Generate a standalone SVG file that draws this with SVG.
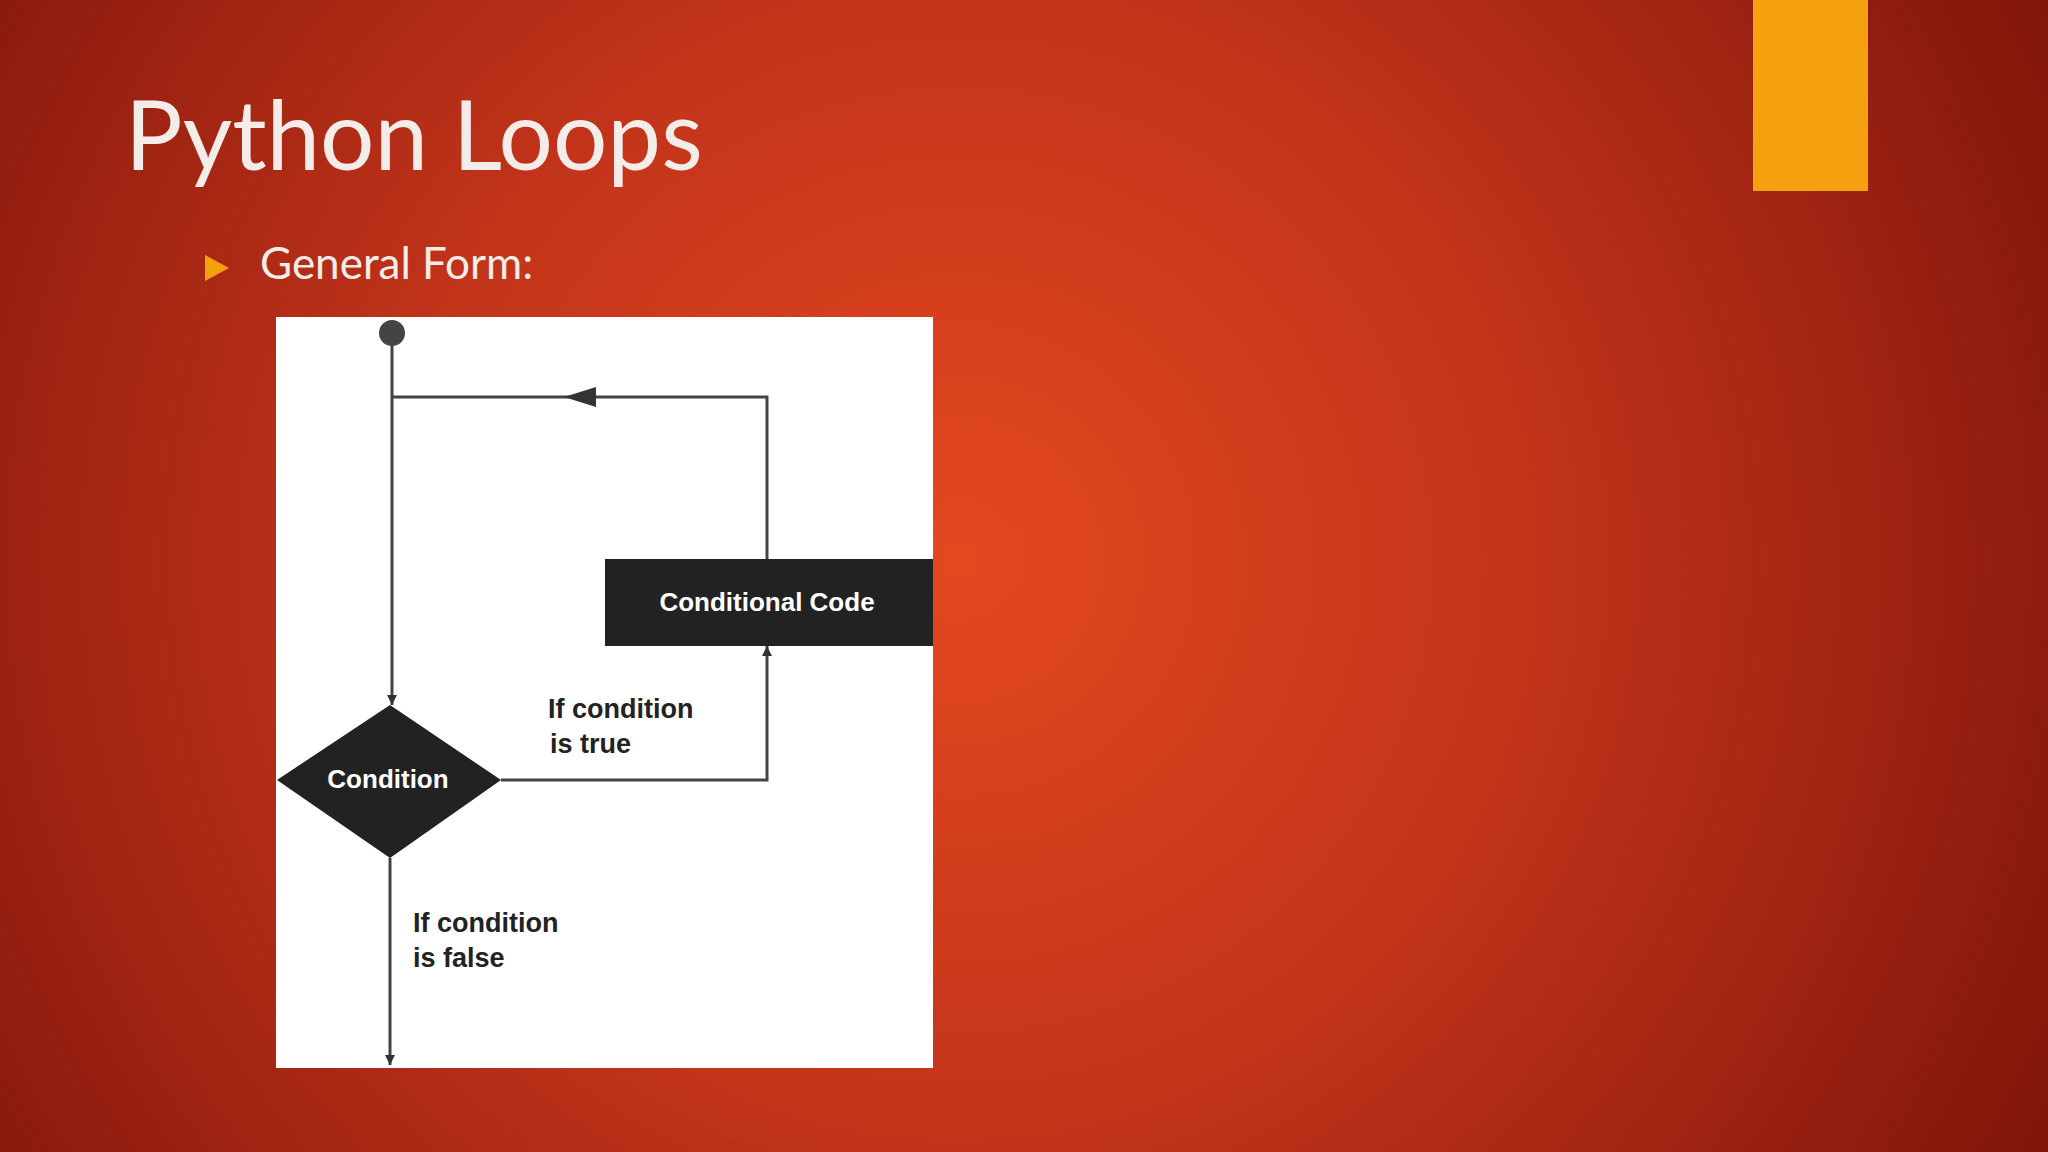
<svg xmlns="http://www.w3.org/2000/svg" width="2048" height="1152" viewBox="0 0 2048 1152">
<defs>
<radialGradient id="bg" cx="960" cy="560" r="1250" gradientUnits="userSpaceOnUse">
<stop offset="0" stop-color="#E4481F"/>
<stop offset="0.45" stop-color="#C2341A"/>
<stop offset="1" stop-color="#7E140A"/>
</radialGradient>
<marker id="ah" viewBox="0 0 10 10" refX="10" refY="5" markerWidth="10" markerHeight="10" markerUnits="userSpaceOnUse" orient="auto">
<path d="M0,0 L10,5 L0,10 z" fill="#333"/>
</marker>
<style>
.ln{stroke:#444;stroke-width:3;fill:none}
.lbl{font-family:"Liberation Sans",Arial,sans-serif;font-size:27px;font-weight:bold;fill:#222}
.wt{font-family:"Liberation Sans",Arial,sans-serif;font-size:26px;font-weight:bold;fill:#fff;text-anchor:middle}
</style>
</defs>
<rect width="2048" height="1152" fill="url(#bg)"/>
<rect x="1753" y="0" width="115" height="191" fill="#F5A00F"/>
<text x="125" y="170" font-family="Lato,'Open Sans',sans-serif" font-size="96" fill="#F4ECE8">Python Loops</text>
<polygon points="205,255 229,268 205,281" fill="#F5A00F"/>
<text x="260" y="279" font-family="Lato,'Open Sans',sans-serif" font-size="44" fill="#F4ECE8">General Form:</text>
<rect x="276" y="317" width="657" height="751" fill="#fff"/>
<g id="connectors">
<path class="ln" d="M392,333 V705" marker-end="url(#ah)"/>
<path class="ln" d="M767,559 V397 H392"/>
<path d="M596,387 L564,397 L596,407 z" fill="#333"/>
<path class="ln" d="M501,780 H767 V646" marker-end="url(#ah)"/>
<path class="ln" d="M390,858 V1065" marker-end="url(#ah)"/>
</g>
<g id="start"><circle cx="392" cy="333" r="13" fill="#444"/></g>
<g id="code">
<rect x="605" y="559" width="328" height="87" fill="#222"/>
<text class="wt" x="767" y="611">Conditional Code</text>
</g>
<g id="condition">
<polygon points="277,780 390,705 501,780 390,858" fill="#222"/>
<text class="wt" x="388" y="788">Condition</text>
</g>
<g id="labels">
<text class="lbl" x="548" y="718">If condition</text>
<text class="lbl" x="550" y="753">is true</text>
<text class="lbl" x="413" y="932">If condition</text>
<text class="lbl" x="413" y="967">is false</text>
</g>
</svg>
